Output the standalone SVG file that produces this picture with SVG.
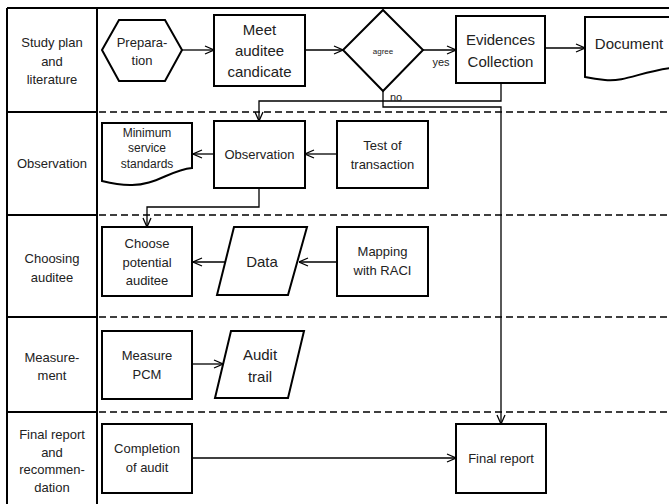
<svg xmlns="http://www.w3.org/2000/svg" width="669" height="504" viewBox="0 0 669 504">
<defs>
<style>
.n{fill:#fff;stroke:#000;stroke-width:2}
.c{fill:none;stroke:#000;stroke-width:1.3}
.frame{fill:none;stroke:#000;stroke-width:2}
.dash{stroke:#000;stroke-width:1.5;stroke-dasharray:7 4}
text{font-family:"Liberation Sans",Arial,sans-serif;fill:#222;text-anchor:middle}
.h{font-size:13px}
.t13{font-size:13px}
.t15{font-size:15px}
</style>
<marker id="a" viewBox="0 0 10 10" refX="10" refY="5" markerWidth="10" markerHeight="10" markerUnits="userSpaceOnUse" orient="auto">
<path d="M1,1 L10,5 L1,9" fill="none" stroke="#000" stroke-width="1.3"/>
</marker>
</defs>
<rect width="669" height="504" fill="#fff"/>
<g id="lanes">
<line class="frame" x1="7" y1="8" x2="669" y2="8"/>
<line class="frame" x1="7" y1="8" x2="7" y2="504"/>
<line class="frame" x1="97" y1="8" x2="97" y2="504"/>
<line class="frame" x1="7" y1="112" x2="97" y2="112"/>
<line class="frame" x1="7" y1="215" x2="97" y2="215"/>
<line class="frame" x1="7" y1="317" x2="97" y2="317"/>
<line class="frame" x1="7" y1="412" x2="97" y2="412"/>
<line class="dash" x1="99" y1="112" x2="669" y2="112"/>
<line class="dash" x1="99" y1="215" x2="669" y2="215"/>
<line class="dash" x1="99" y1="317" x2="669" y2="317"/>
<line class="dash" x1="99" y1="412" x2="669" y2="412"/>
<text class="h" x="52" y="47">Study plan</text>
<text class="h" x="52" y="66">and</text>
<text class="h" x="52" y="84">literature</text>
<text class="h" x="52" y="168">Observation</text>
<text class="h" x="52" y="263">Choosing</text>
<text class="h" x="52" y="282">auditee</text>
<text class="h" x="52" y="362">Measure-</text>
<text class="h" x="52" y="380">ment</text>
<text class="h" x="52" y="439">Final report</text>
<text class="h" x="52" y="457">and</text>
<text class="h" x="52" y="474">recommen-</text>
<text class="h" x="52" y="492">dation</text>
</g>
<g id="connectors">
<line class="c" x1="182" y1="50" x2="214" y2="50" marker-end="url(#a)"/>
<line class="c" x1="305" y1="50" x2="343" y2="50" marker-end="url(#a)"/>
<line class="c" x1="423" y1="50" x2="456" y2="50" marker-end="url(#a)"/>
<line class="c" x1="545" y1="48" x2="585" y2="48" marker-end="url(#a)"/>
<polyline class="c" points="383,91 383,107 501,107 501,424" marker-end="url(#a)"/>
<polyline class="c" points="501,83 501,101 259,101 259,121" marker-end="url(#a)"/>
<line class="c" x1="214" y1="154" x2="193" y2="154" marker-end="url(#a)"/>
<line class="c" x1="337" y1="154" x2="305" y2="154" marker-end="url(#a)"/>
<polyline class="c" points="259,188 259,207 147,207 147,227" marker-end="url(#a)"/>
<line class="c" x1="227" y1="262" x2="193" y2="262" marker-end="url(#a)"/>
<line class="c" x1="337" y1="262" x2="299" y2="262" marker-end="url(#a)"/>
<line class="c" x1="192" y1="364" x2="223" y2="364" marker-end="url(#a)"/>
<line class="c" x1="192" y1="458" x2="456" y2="458" marker-end="url(#a)"/>
<text x="441" y="66" style="font-size:11px">yes</text>
<text x="396" y="101" style="font-size:11px">no</text>
</g>
<g id="preparation">
<polygon class="n" points="102,50 119,20 165,20 182,50 165,81 119,81"/>
<text class="t13" x="142" y="47">Prepara-</text>
<text class="t13" x="142" y="65">tion</text>
</g>
<g id="meet">
<rect class="n" x="214" y="15" width="91" height="71"/>
<text class="t15" x="259.500" y="35">Meet</text>
<text class="t15" x="259.500" y="56">auditee</text>
<text class="t15" x="259.500" y="77">candicate</text>
</g>
<g id="agree">
<polygon class="n" points="383,10 423,50 383,91 343,50"/>
<text x="383" y="54" style="font-size:8px">agree</text>
</g>
<g id="evidences">
<rect class="n" x="456" y="16" width="89" height="67"/>
<text class="t15" x="500.500" y="45">Evidences</text>
<text class="t15" x="500.500" y="67">Collection</text>
</g>
<g id="document">
<path class="n" d="M585,17 L670,17 L670,68 C640,72 625,82 605,80 C595,79 590,78 585,77 Z"/>
<text class="t15" x="629" y="49">Document</text>
</g>
<g id="observation">
<rect class="n" x="214" y="121" width="91" height="67"/>
<text class="t13" x="259.500" y="159">Observation</text>
</g>
<g id="mss">
<path class="n" d="M102,123 L192,123 L192,168 C170,170 155,186 130,185 C118,185 110,183 102,181 Z"/>
<text style="font-size:12px" x="147" y="137">Minimum</text>
<text style="font-size:12px" x="147" y="152">service</text>
<text style="font-size:12px" x="147" y="168">standards</text>
</g>
<g id="test">
<rect class="n" x="337" y="121" width="91" height="67"/>
<text class="t13" x="382.500" y="150">Test of</text>
<text class="t13" x="382.500" y="169">transaction</text>
</g>
<g id="choose">
<rect class="n" x="102" y="227" width="90" height="69"/>
<text class="t13" x="147" y="248">Choose</text>
<text class="t13" x="147" y="267">potential</text>
<text class="t13" x="147" y="285">auditee</text>
</g>
<g id="data">
<polygon class="n" points="234,227 307,227 288,295 217,295"/>
<text class="t15" x="262" y="267">Data</text>
</g>
<g id="mapping">
<rect class="n" x="337" y="227" width="91" height="69"/>
<text class="t13" x="382.500" y="256">Mapping</text>
<text class="t13" x="382.500" y="275">with RACI</text>
</g>
<g id="measure">
<rect class="n" x="102" y="331" width="90" height="68"/>
<text class="t13" x="147" y="360">Measure</text>
<text class="t13" x="147" y="379">PCM</text>
</g>
<g id="audittrail">
<polygon class="n" points="231,331 304,331 288,398 215,398"/>
<text class="t15" x="260" y="360">Audit</text>
<text class="t15" x="260" y="382">trail</text>
</g>
<g id="completion">
<rect class="n" x="102" y="424" width="90" height="69"/>
<text class="t13" x="147" y="453">Completion</text>
<text class="t13" x="147" y="472">of audit</text>
</g>
<g id="finalreport">
<rect class="n" x="456" y="424" width="90" height="69"/>
<text class="t13" x="501" y="463">Final report</text>
</g>
</svg>
